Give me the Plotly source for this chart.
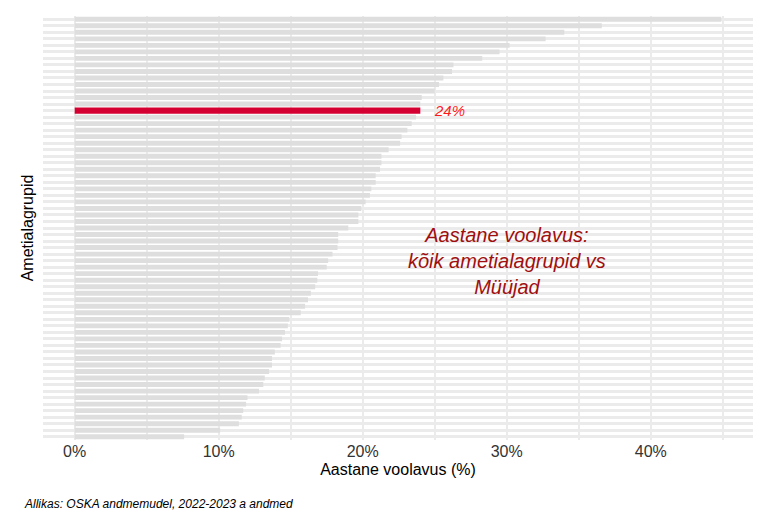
import plotly.graph_objects as go

values = [44.9, 36.6, 34.0, 32.7, 30.2, 29.5, 28.3, 26.3, 26.2, 25.6, 25.3, 25.0, 24.1, 24.0,
          24.0, 23.7, 23.4, 23.1, 22.7, 22.6, 21.8, 21.3, 21.3, 21.2, 20.9, 20.9, 20.6, 20.5,
          20.2, 19.9, 19.7, 19.7, 19.0, 18.3,
          18.3, 18.25, 17.9, 17.6, 17.5, 16.9, 16.85, 16.7, 16.4, 16.2, 16.0, 15.7, 14.9, 14.8,
          14.6, 14.4, 14.3, 13.9, 13.7, 13.7, 13.5, 13.2, 13.1, 12.8, 12.0, 11.9, 11.7, 11.6,
          11.4, 10.1, 7.6]
categories = [f"g{i}" for i in range(len(values))]
highlight = 14
highlight_label = "24%"

colors = ["#dedede"] * len(values)
colors[highlight] = "#d50032"
widths = [0.75] * len(values)
widths[highlight] = 0.95

fig = go.Figure(go.Bar(x=values, y=categories, orientation="h", marker_color=colors,
                       width=widths, marker_line_width=0))
fig.add_annotation(x=values[highlight] + 0.8, y=categories[highlight], text="<i>" + highlight_label + "</i>",
                   showarrow=False, xanchor="left", font=dict(color="#ff1a1a", size=15, family="Liberation Sans"))
fig.add_annotation(x=30, y=categories[37], text="<i>Aastane voolavus:<br>kõik ametialagrupid vs<br>Müüjad</i>",
                   showarrow=False, font=dict(color="#a00f0f", size=20, family="Liberation Sans"),
                   align="center", yanchor="middle")
fig.add_annotation(x=-0.03, xref="paper", xanchor="left", y=-0.15, yref="paper", yanchor="middle",
                   text="<i>Allikas: OSKA andmemudel, 2022-2023 a andmed</i>",
                   showarrow=False, font=dict(size=12, color="black", family="Liberation Sans"))

tv = [0, 5, 10, 15, 20, 25, 30, 35, 40, 45]
tt = ["0%", "", "10%", "", "20%", "", "30%", "", "40%", ""]
fig.update_layout(
    width=768, height=512, plot_bgcolor="white", paper_bgcolor="white",
    margin=dict(l=35, r=23, t=8, b=80), showlegend=False, bargap=0.3,
    font=dict(family="Liberation Sans", size=16, color="black"),
    xaxis=dict(range=[-2.2, 47.1], tickvals=tv, ticktext=tt, showgrid=True, gridcolor="#ebebeb",
               gridwidth=1.5, zeroline=False, ticks="", automargin=False,
               title=dict(text="Aastane voolavus (%)", standoff=4, font=dict(size=16)),
               tickfont=dict(size=16, color="#333")),
    yaxis=dict(categoryorder="array", categoryarray=categories, autorange="reversed", dtick=1,
               showticklabels=False, showgrid=True, gridcolor="#ebebeb", gridwidth=3, ticks="",
               automargin=False, title=dict(text="Ametialagrupid", standoff=4, font=dict(size=16))),
)
fig.write_html("out.html")
